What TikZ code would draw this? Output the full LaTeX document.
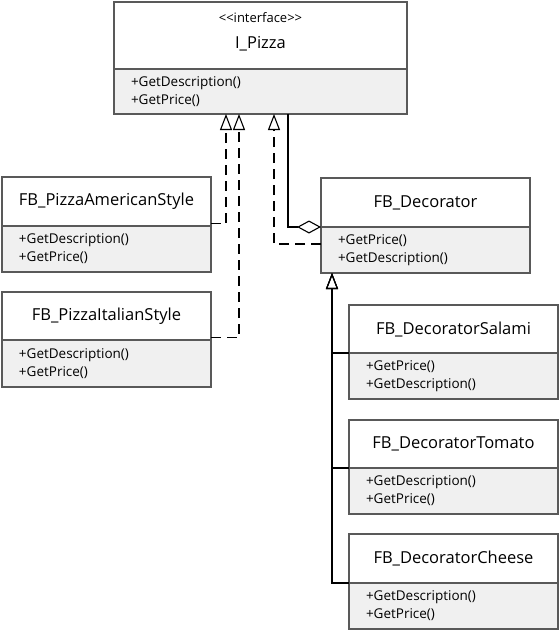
\documentclass[tikz,border=0pt]{standalone}
\usepackage{fontspec}
\setmainfont{Open Sans}
\usetikzlibrary{arrows.meta,positioning}

\begin{document}
\begin{tikzpicture}[
	x=1pt, y=-1pt, line width=1.1pt,
	head/.style={draw=black!65, fill=white, inner sep=0pt, outer sep=0pt,
		anchor=north west, minimum width=209pt, font=\fontsize{16.5}{19}\selectfont},
	ops/.style={draw=black!65, fill=black!6, inner xsep=17pt, inner ysep=0pt,
		outer sep=0pt, align=left, text width=175pt, minimum height=46pt,
		font=\fontsize{13.5}{18}\selectfont},
	realize/.style={dash pattern=on 10pt off 6pt, -{Triangle[open, length=16pt, width=12pt]}},
	inherit/.style={-{Triangle[open, length=16pt, width=12pt]}}]
	\useasboundingbox (0,0) rectangle (560,633);
	% interface
	\node (ipizza) [head, minimum width=293pt, minimum height=67pt, text height=28pt, text depth=2pt,
		label={[font=\fontsize{13}{15}\selectfont, anchor=base, yshift=-20pt]north:{<{}<interface>{}>}}]
		at (114,2) {I\_Pizza};
	\node (ipizza-ops) [ops, text width=259pt, minimum height=45pt, below=0pt of ipizza]
		{+GetDescription()\\+GetPrice()};
	% concrete pizzas
	\node (american) [head, minimum height=49pt] at (2,177) {FB\_PizzaAmericanStyle};
	\node (american-ops) [ops, below=0pt of american] {+GetDescription()\\+GetPrice()};
	\node (italian) [head, minimum height=48pt] at (2,292) {FB\_PizzaItalianStyle};
	\node (italian-ops) [ops, minimum height=47pt, below=0pt of italian] {+GetDescription()\\+GetPrice()};
	% decorators
	\node (decorator) [head, minimum height=49pt] at (321,178) {FB\_Decorator};
	\node (decorator-ops) [ops, below=0pt of decorator] {+GetPrice()\\+GetDescription()};
	\node (salami) [head, minimum height=48pt] at (349,305) {FB\_DecoratorSalami};
	\node (salami-ops) [ops, below=0pt of salami] {+GetPrice()\\+GetDescription()};
	\node (tomato) [head, minimum height=48pt] at (349,420) {FB\_DecoratorTomato};
	\node (tomato-ops) [ops, below=0pt of tomato] {+GetDescription()\\+GetPrice()};
	\node (cheese) [head, minimum height=49pt] at (349,534) {FB\_DecoratorCheese};
	\node (cheese-ops) [ops, below=0pt of cheese] {+GetDescription()\\+GetPrice()};

	\draw [realize] ([yshift=2.5pt]american.south east) -| ([xshift=112pt]ipizza-ops.south west);
	\draw [realize] ([yshift=2.5pt]italian.south east) -| ([xshift=125pt]ipizza-ops.south west);
	\draw [realize] ([yshift=-17pt]decorator.south west) -| ([xshift=160pt]ipizza-ops.south west);
	\draw [-{Diamond[open, length=24pt, width=13pt]}] ([xshift=174pt]ipizza-ops.south west) |- (decorator.south west);
	\draw [inherit] (salami.south west) -| ([xshift=11pt]decorator-ops.south west);
	\draw [inherit] (tomato.south west) -| ([xshift=11pt]decorator-ops.south west);
	\draw [inherit] (cheese.south west) -| ([xshift=11pt]decorator-ops.south west);
\end{tikzpicture}
\end{document}
